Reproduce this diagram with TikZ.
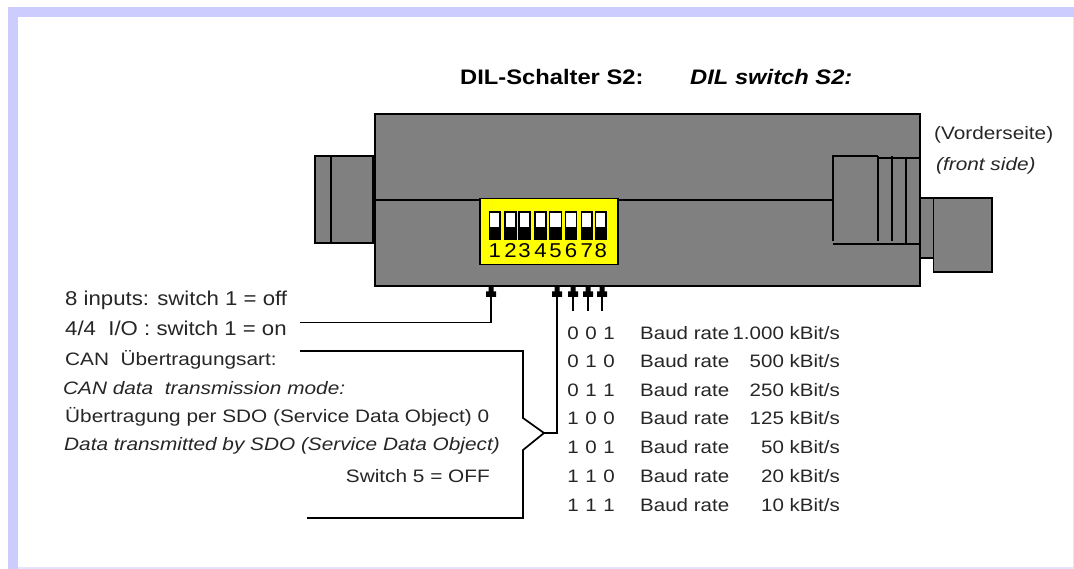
\documentclass[tikz,border=0pt]{standalone}
\usepackage{fontspec}
\setmainfont{Liberation Sans}
\newfontfamily\wideA[FakeStretch=1.11]{Liberation Sans}
\newfontfamily\wideB[FakeStretch=1.155]{Liberation Sans}
\newfontfamily\wideC[FakeStretch=1.14]{Liberation Sans}
\newfontfamily\wideD[FakeStretch=1.13]{Liberation Sans}
\definecolor{band}{HTML}{CCCCFF}
\definecolor{bandlight}{HTML}{E4E4FF}
\definecolor{body}{HTML}{808080}
\definecolor{dip}{HTML}{FFFF00}
\tikzset{
  shell/.style={draw=black,fill=body,line width=1.5pt},
  edge/.style={draw=black,line width=1.5pt},
  wire/.style={draw=black,line width=1.7pt},
  big/.style={anchor=west,inner sep=0pt,font=\wideA\fontsize{20}{20}\selectfont,text=black!85},
  lab/.style={anchor=west,inner sep=0pt,font=\wideB\fontsize{18}{18}\selectfont,text=black!85},
  labi/.style={anchor=west,inner sep=0pt,font=\wideB\fontsize{18}{18}\selectfont\itshape,text=black!85},
  rate/.style={anchor=west,inner sep=0pt,font=\wideC\fontsize{18}{18}\selectfont,text=black!85},
  ttl/.style={anchor=west,inner sep=0pt,font=\wideD\fontsize{21}{21}\selectfont\bfseries,text=black},
  head/.style={fill=black},
  sw/.style={draw=black,fill=white,line width=1.3pt},
  digit/.style={inner sep=0pt,font=\wideA\fontsize{20}{20}\selectfont,text=black},
}
\newcommand{\arrowhd}[1]{\fill[head] (#1-2.5,286) -- (#1+2.5,286) -- (#1+2.5,291.5) -- (#1+5,291.5) -- (#1+5,297) -- (#1-5,297) -- (#1-5,291.5) -- (#1-2.5,291.5) -- cycle;}
\newcommand{\dipsw}[3]{\draw[sw] (#1,212) rectangle (#2,239); \fill[black] (#1,227) rectangle (#2,239.5); \node[digit] (d#3) at ({(#1+#2)/2},251) {#3};}
\begin{document}
\begin{tikzpicture}[x=1pt,y=-1pt]
\useasboundingbox (0,0) rectangle (1074,569);
\fill[white] (0,0) rectangle (1074,569);
% frame
\fill[bandlight] (8,7) rectangle (1074,569);
\fill[band] (8,7) rectangle (1074,17);
\fill[band] (8,7) rectangle (18,569);
\fill[white] (18,17) rectangle (1072.5,567);
% connectors and body
\draw[shell] (315,156) rectangle (375,243);
\draw[edge] (331,156) -- (331,243);
\draw[shell] (920,198) rectangle (933.5,258);
\draw[shell] (933.5,198) rectangle (992,272);
\draw[shell] (375,114) rectangle (920,286);
\draw[edge,line width=2.5pt] (373.5,156) -- (373.5,243);
\draw[edge] (375,200) -- (833,200);
\draw[edge] (833,241) -- (833,156) -- (878,156);
\draw[edge] (878,158) -- (920,158);
\draw[edge] (878,156) -- (878,241);
\draw[edge] (892,156) -- (892,241);
\draw[edge] (906,158) -- (906,244);
\draw[edge] (833,244) -- (920,244);
% DIP block
\node[draw=black,fill=dip,line width=1.5pt,minimum width=138pt,minimum height=66pt,inner sep=0pt,anchor=north west] (dipblock) at (479,198) {};
\dipsw{489.5}{500}{1}
\dipsw{505}{516}{2}
\dipsw{519}{530}{3}
\dipsw{535}{546}{4}
\dipsw{549.5}{561.5}{5}
\dipsw{565.5}{576.5}{6}
\dipsw{581.5}{592}{7}
\dipsw{595.5}{606}{8}
% title
\node[ttl] (t1) at (460,76.5) {DIL-Schalter S2:};
\node[ttl,font=\wideD\fontsize{21}{21}\selectfont\bfseries\itshape] (t2) at (690,76.5) {DIL switch S2:};
\node[lab] (front1) at (934,135) {(Vorderseite)};
\node[labi] (front2) at (936,165.5) {(front side)};
% left labels
\node[big] (l1) at (65,300) {8 inputs: switch 1 = off};
\node[big] (l2) at (65,328) {4/4~ I/O : switch 1 = on};
\node[lab] (l3) at (65,360) {CAN~ Übertragungsart:};
\node[labi] (l4) at (63,388) {CAN data~ transmission mode:};
\node[lab] (l5) at (65,416.5) {Übertragung per SDO (Service Data Object) 0};
\node[labi] (l6) at (64,446) {Data transmitted by SDO (Service Data Object)};
\node[lab,anchor=east] (l7) at (490,476.5) {Switch 5 = OFF};
% wires
\coordinate (w1) at (300,322.5);
\coordinate (p1) at (491,322.5);
\coordinate (t1a) at (491,290);
\draw[wire] (w1) -- (p1) -- (t1a);
\coordinate (w2) at (300,351);
\coordinate (w3) at (307,518);
\coordinate (j) at (544,433);
\draw[wire] (w2) -- (523,351) -- (523,418) -- (j) -- (523,450) -- (523,518) -- (w3);
\coordinate (t2a) at (557,290);
\draw[wire] (j) -- (557,433) -- (t2a);
\foreach \x in {573,588,602} { \coordinate (s\x) at (\x,311); \draw[wire,line width=1.3pt] (s\x) -- (\x,290); }
\arrowhd{491}\arrowhd{557}\arrowhd{573}\arrowhd{588}\arrowhd{602}
% baud table
\foreach \y/\a/\b/\c/\r in {333/0/0/1/1.000,361/0/1/0/500,390/0/1/1/250,418/1/0/0/125,447/1/0/1/50,476/1/1/0/20,505/1/1/1/10}{
  \node[rate,anchor=center] at (573,\y) {\a};
  \node[rate,anchor=center] at (591,\y) {\b};
  \node[rate,anchor=center] at (609,\y) {\c};
  \node[rate] at (640,\y) {Baud rate};
  \node[rate,anchor=east] at (840,\y) {\r\ kBit/s};
}
\end{tikzpicture}
\end{document}
